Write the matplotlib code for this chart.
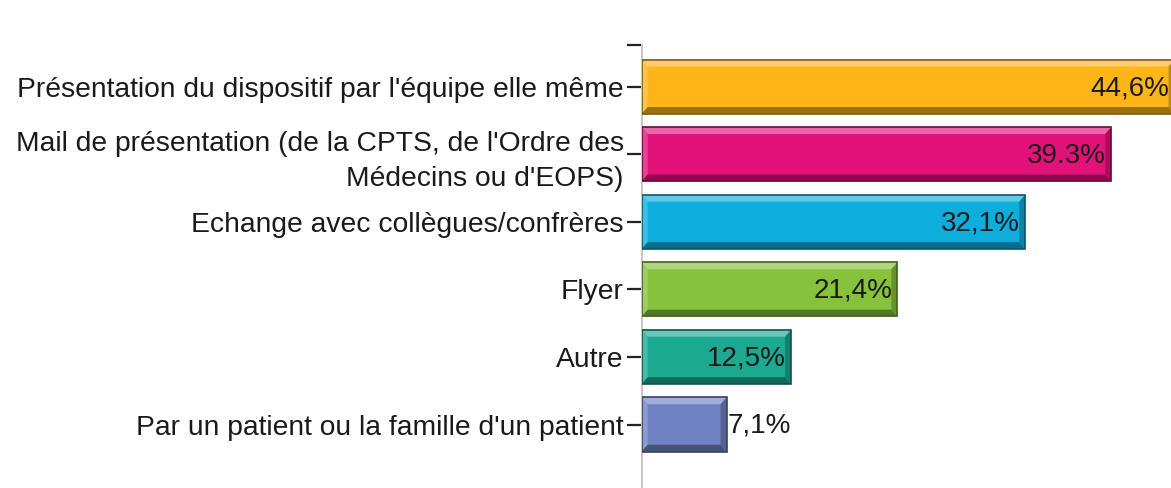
import matplotlib.pyplot as plt
from matplotlib.patches import Polygon
from matplotlib.colors import to_rgb

# data
categories = ["Présentation du dispositif par l'équipe elle même",
              "Mail de présentation (de la CPTS, de l'Ordre des\nMédecins ou d'EOPS)",
              "Echange avec collègues/confrères",
              "Flyer",
              "Autre",
              "Par un patient ou la famille d'un patient"]
values = [44.6, 39.3, 32.1, 21.4, 12.5, 7.1]
value_labels = ["44,6%", "39.3%", "32,1%", "21,4%", "12,5%", "7,1%"]
colors = ["#FDB518", "#E2127A", "#0EAEDC", "#86C23C", "#1CA991", "#6F82C2"]

plt.rcParams['font.family'] = ['Liberation Sans', 'DejaVu Sans']

fig = plt.figure(figsize=(11.71, 4.88), dpi=100)
ax = fig.add_axes([0.548, 0.0, 0.452, 0.908])

def shade(c, f):
    r, g, b = to_rgb(c)
    if f > 1:
        return tuple(v + (1 - v) * (f - 1) for v in (r, g, b))
    return tuple(v * f for v in (r, g, b))

h = 0.8
pos = list(range(len(values)))
bars = ax.barh(pos, values, height=h, color=colors, edgecolor='none', zorder=2)

# bevel edges (light top/left, dark bottom/right)
bx = 0.5
by = 0.1
for bar, c in zip(bars, colors):
    x0, y0 = bar.get_x(), bar.get_y()
    w, hh = bar.get_width(), bar.get_height()
    x1, y1 = x0 + w, y0 + hh
    top = Polygon([(x0, y0), (x1, y0), (x1 - bx, y0 + by), (x0 + bx, y0 + by)],
                  closed=True, facecolor=shade(c, 1.35), edgecolor='none', zorder=3)
    left = Polygon([(x0, y0), (x0 + bx, y0 + by), (x0 + bx, y1 - by), (x0, y1)],
                   closed=True, facecolor=shade(c, 1.2), edgecolor='none', zorder=3)
    bottom = Polygon([(x0, y1), (x1, y1), (x1 - bx, y1 - by), (x0 + bx, y1 - by)],
                     closed=True, facecolor=shade(c, 0.62), edgecolor='none', zorder=3)
    right = Polygon([(x1, y0), (x1, y1), (x1 - bx, y1 - by), (x1 - bx, y0 + by)],
                    closed=True, facecolor=shade(c, 0.75), edgecolor='none', zorder=3)
    for p in (top, left, bottom, right):
        ax.add_patch(p)
    ax.add_patch(plt.Rectangle((x0, y0), w, hh, fill=False,
                               edgecolor=shade(c, 0.5), linewidth=1.2, zorder=4))

for i, (v, lab) in enumerate(zip(values, value_labels)):
    if v > 10:
        ax.text(v - 0.45, i + 0.02, lab, ha='right', va='center', fontsize=20,
                color='#1a1a1a', zorder=5)
    else:
        ax.text(v + 0.1, i + 0.02, lab, ha='left', va='center', fontsize=20,
                color='#1a1a1a', zorder=5)

ax.set_xlim(0, 44.3)
ax.set_ylim(5.94, -0.62)
ax.set_yticks([-0.62] + pos)
ax.set_yticklabels([''] + categories, fontsize=20.3, color='#1a1a1a', linespacing=1.45)
ax.tick_params(axis='y', length=11, width=1.6, color='#222222', pad=2)
ax.set_xticks([])
for s in ['top', 'right', 'bottom']:
    ax.spines[s].set_visible(False)
ax.spines['left'].set_color('#c8c8c8')
ax.spines['left'].set_linewidth(1.5)

fig.savefig('out.png', dpi=100)
